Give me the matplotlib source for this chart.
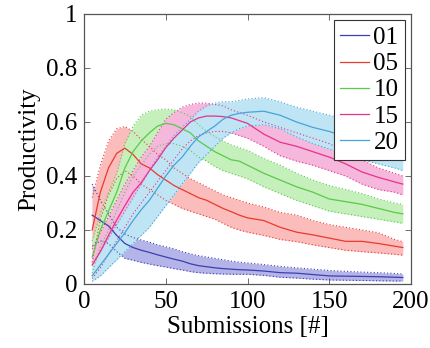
import matplotlib
matplotlib.use("Agg")
import matplotlib.pyplot as plt
import numpy as np

plt.rcParams['font.family'] = ['Liberation Serif', 'DejaVu Serif']

submissions = [5, 10, 15, 20, 25, 30, 35, 40, 45, 50, 55, 60, 65, 70, 75, 80, 85, 90, 95, 100,
               110, 120, 130, 140, 150, 160, 170, 180, 190, 195]

labels = ["01", "05", "10", "15", "20"]

mean_01 = [0.255, 0.235, 0.215, 0.18, 0.15, 0.135, 0.125, 0.117, 0.108, 0.10, 0.092, 0.085, 0.075, 0.068, 0.064, 0.06, 0.057, 0.055, 0.053, 0.052,
           0.048, 0.042, 0.04, 0.035, 0.03, 0.029, 0.028, 0.027, 0.025, 0.024]
upper_01 = [0.37, 0.31, 0.26, 0.21, 0.185, 0.172, 0.163, 0.155, 0.145, 0.138, 0.13, 0.12, 0.112, 0.105, 0.1, 0.095, 0.09, 0.085, 0.081, 0.078,
            0.072, 0.065, 0.06, 0.055, 0.05, 0.047, 0.044, 0.042, 0.039, 0.037]
lower_01 = [0.14, 0.16, 0.15, 0.12, 0.095, 0.088, 0.08, 0.074, 0.068, 0.063, 0.057, 0.052, 0.046, 0.042, 0.04, 0.038, 0.037, 0.036, 0.036, 0.036,
            0.032, 0.025, 0.022, 0.018, 0.015, 0.014, 0.013, 0.012, 0.011, 0.011]

mean_05 = [0.2, 0.34, 0.43, 0.484, 0.503, 0.48, 0.445, 0.43, 0.405, 0.385, 0.365, 0.35, 0.335, 0.32, 0.31, 0.295, 0.28, 0.268, 0.255, 0.245,
           0.235, 0.21, 0.192, 0.182, 0.17, 0.158, 0.158, 0.15, 0.14, 0.135]
upper_05 = [0.32, 0.44, 0.53, 0.575, 0.583, 0.565, 0.535, 0.51, 0.48, 0.46, 0.43, 0.41, 0.39, 0.375, 0.36, 0.345, 0.33, 0.32, 0.31, 0.3,
            0.285, 0.265, 0.255, 0.235, 0.22, 0.21, 0.2, 0.19, 0.165, 0.157]
lower_05 = [0.08, 0.24, 0.33, 0.39, 0.42, 0.4, 0.37, 0.35, 0.33, 0.31, 0.295, 0.28, 0.27, 0.26, 0.25, 0.24, 0.225, 0.21, 0.2, 0.192,
            0.18, 0.165, 0.157, 0.145, 0.135, 0.125, 0.12, 0.115, 0.11, 0.107]

mean_10 = [0.1, 0.2, 0.27, 0.34, 0.43, 0.49, 0.53, 0.56, 0.585, 0.595, 0.59, 0.575, 0.56, 0.53, 0.51, 0.49, 0.475, 0.46, 0.455, 0.44,
           0.41, 0.385, 0.36, 0.34, 0.315, 0.305, 0.295, 0.28, 0.265, 0.26]
upper_10 = [0.16, 0.26, 0.34, 0.41, 0.52, 0.585, 0.625, 0.64, 0.645, 0.648, 0.645, 0.635, 0.62, 0.59, 0.565, 0.545, 0.53, 0.515, 0.505, 0.495,
            0.465, 0.44, 0.41, 0.385, 0.365, 0.35, 0.335, 0.315, 0.3, 0.295]
lower_10 = [0.04, 0.14, 0.2, 0.27, 0.34, 0.4, 0.44, 0.48, 0.51, 0.52, 0.52, 0.51, 0.495, 0.47, 0.455, 0.435, 0.42, 0.41, 0.4, 0.39,
            0.36, 0.335, 0.31, 0.29, 0.27, 0.26, 0.25, 0.24, 0.23, 0.225]

mean_15 = [0.07, 0.12, 0.18, 0.237, 0.29, 0.34, 0.375, 0.42, 0.46, 0.505, 0.54, 0.57, 0.6, 0.615, 0.622, 0.622, 0.62, 0.615, 0.605, 0.595,
           0.555, 0.525, 0.51, 0.49, 0.47, 0.445, 0.415, 0.395, 0.378, 0.37]
upper_15 = [0.13, 0.19, 0.25, 0.31, 0.37, 0.42, 0.47, 0.51, 0.56, 0.61, 0.635, 0.655, 0.665, 0.67, 0.67, 0.665, 0.66, 0.645, 0.635, 0.625,
            0.6, 0.58, 0.56, 0.54, 0.52, 0.49, 0.46, 0.43, 0.41, 0.40]
lower_15 = [0.02, 0.06, 0.11, 0.16, 0.21, 0.26, 0.3, 0.34, 0.38, 0.42, 0.46, 0.5, 0.53, 0.55, 0.56, 0.565, 0.565, 0.56, 0.55, 0.54,
            0.51, 0.475, 0.455, 0.44, 0.42, 0.4, 0.37, 0.35, 0.34, 0.33]

mean_20 = [0.03, 0.07, 0.11, 0.15, 0.19, 0.235, 0.275, 0.31, 0.355, 0.4, 0.44, 0.47, 0.51, 0.545, 0.565, 0.585, 0.61, 0.625, 0.632, 0.636,
           0.64, 0.625, 0.6, 0.58, 0.565, 0.545, 0.53, 0.51, 0.49, 0.485]
upper_20 = [0.07, 0.12, 0.17, 0.22, 0.27, 0.32, 0.37, 0.42, 0.47, 0.51, 0.55, 0.58, 0.61, 0.64, 0.66, 0.67, 0.675, 0.675, 0.68, 0.685,
            0.69, 0.675, 0.655, 0.64, 0.625, 0.61, 0.595, 0.575, 0.555, 0.55]
lower_20 = [0.01, 0.03, 0.06, 0.09, 0.12, 0.15, 0.18, 0.21, 0.25, 0.29, 0.33, 0.37, 0.41, 0.45, 0.48, 0.51, 0.54, 0.56, 0.575, 0.585,
            0.59, 0.575, 0.545, 0.52, 0.5, 0.48, 0.46, 0.445, 0.43, 0.42]

means = [mean_01, mean_05, mean_10, mean_15, mean_20]
uppers = [upper_01, upper_05, upper_10, upper_15, upper_20]
lowers = [lower_01, lower_05, lower_10, lower_15, lower_20]

line_colors = ['#3b3fb2', '#ea3a2e', '#5ac84c', '#e8318e', '#47a3db']
fill_colors = ['#b5b4e8', '#fbbcbc', '#c5f0bc', '#f5b7dc', '#bfe4f4']

fig = plt.figure(figsize=(4.3, 3.48), dpi=100)
ax = fig.add_axes([84/430, 1-284/348, (411-84)/430, (284-14)/348])

x = np.array(submissions)
for i in range(5):
    ax.fill_between(x, lowers[i], uppers[i], color=fill_colors[i], lw=0, zorder=1)
for i in range(5):
    ax.plot(x, uppers[i], color=line_colors[i], lw=0.8, ls=(0, (1, 2)), zorder=2)
    ax.plot(x, lowers[i], color=line_colors[i], lw=0.8, ls=(0, (1, 2)), zorder=2)
for i in range(5):
    ax.plot(x, means[i], color=line_colors[i], lw=0.9, zorder=3, label=labels[i])

ax.set_xlim(0, 200)
ax.set_ylim(0, 1)
ax.set_xticks([0, 50, 100, 150, 200])
ax.set_yticks([0, 0.2, 0.4, 0.6, 0.8, 1.0])
ax.set_yticklabels(["0", "0.2", "0.4", "0.6", "0.8", "1"])
ax.tick_params(direction='in', top=True, right=True, length=4, width=0.6,
               color='#555555', labelsize=18, pad=5)
for s in ax.spines.values():
    s.set_color('#555555')
    s.set_linewidth(0.9)

ax.set_xlabel("Submissions [#]", fontsize=18, labelpad=2)
ax.set_ylabel("Productivity", fontsize=18, labelpad=4)

leg = ax.legend(loc='upper right', fontsize=18, frameon=True, fancybox=False,
                edgecolor='#333333', framealpha=1, handlelength=1.15, handletextpad=0.2,
                labelspacing=0.15, borderpad=0.25, borderaxespad=0.25)
leg.get_frame().set_linewidth(0.8)

fig.savefig("out.png", dpi=100)
